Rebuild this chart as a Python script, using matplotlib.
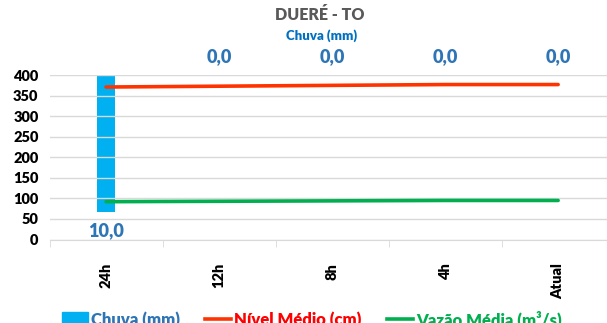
import matplotlib.pyplot as plt
from matplotlib.patches import Patch
from matplotlib.lines import Line2D
import numpy as np

plt.rcParams['font.family'] = ['Lato', 'DejaVu Sans']
plt.rcParams['font.weight'] = 'heavy'

categorias = ["24h", "12h", "8h", "4h", "Atual"]
chuva = [10.0, 0.0, 0.0, 0.0, 0.0]
nivel = [371, 373, 375, 377, 377]
vazao = [92, 93, 94, 95, 95]

azul = '#00B0F0'
azul_txt = '#2E75B6'
vermelho = '#FF3300'
verde = '#00B050'
grade = '#D9D9D9'

fig = plt.figure(figsize=(6.07, 3.23), dpi=100)
ax = fig.add_axes([0.0816, 0.2585, 0.931, 0.509])
x = np.arange(len(categorias))

# chuva no eixo secundario invertido (barra desce do topo)
ax2 = ax.twinx()
ax2.bar(x, chuva, width=0.16, color=azul, zorder=2)
ax2.set_ylim(12, 0)
ax2.axis('off')

ax.plot(x, nivel, color=vermelho, lw=2.6, solid_capstyle='round', zorder=3)
ax.plot(x, vazao, color=verde, lw=2.6, solid_capstyle='round', zorder=3)
ax.set_zorder(ax2.get_zorder() + 1)
ax.patch.set_visible(False)

ax.set_xlim(-0.5, len(categorias) - 0.5)
ax.set_ylim(0, 400)
ax.set_yticks(range(0, 401, 50))
ax.grid(axis='y', color=grade, lw=1)
ax.set_axisbelow(True)
for s in ['top', 'right', 'left']:
    ax.spines[s].set_visible(False)
ax.spines['bottom'].set_color(grade)
ax.tick_params(axis='y', length=0, pad=8, labelsize=10.5)
ax.set_xticks(x)
ax.set_xticklabels(categorias, rotation=90, va='top', fontsize=10.5)
ax.tick_params(axis='x', which='major', length=0, pad=17)
ax.set_xticks(np.arange(-0.5, len(categorias), 1), minor=True)
ax.tick_params(axis='x', which='minor', length=5, color=grade)

for xi, v in zip(x, chuva):
    txt = f"{v:.1f}".replace('.', ',')
    if v > 0:
        ax2.annotate(txt, (xi, v), xytext=(0, -13), textcoords='offset points',
                     ha='center', va='center', color=azul_txt, fontsize=13,
                     bbox=dict(boxstyle='square,pad=0.25', fc='white', ec='none'),
                     zorder=5, annotation_clip=False)
    else:
        ax2.annotate(txt, (xi, v), xytext=(0, 13), textcoords='offset points',
                     ha='center', va='center', color=azul_txt, fontsize=13,
                     annotation_clip=False)

fig.text(0.527, 1 - 15 / 323, "DUERÉ - TO", ha='center', va='center',
         color='#595959', fontsize=11.5)
fig.text(0.53, 1 - 36 / 323, "Chuva (mm)", ha='center', va='center',
         color='#0070C0', fontsize=9.5)

handles = [Patch(color=azul),
           Line2D([], [], color=vermelho, lw=2.6),
           Line2D([], [], color=verde, lw=2.6)]
rotulos = ["Chuva (mm)", "Nível Médio (cm)", "Vazão Média (m³/s)"]
leg = fig.legend(handles, rotulos, loc='upper left', ncol=3, frameon=False,
                 bbox_to_anchor=(62 / 607, 1 - 310 / 323), borderpad=0,
                 borderaxespad=0, handlelength=1.55, handleheight=0.85,
                 handletextpad=0.2, columnspacing=1.5,
                 prop={'size': 12, 'weight': 'heavy'})
for t, c in zip(leg.get_texts(), [azul_txt, '#FF0000', verde]):
    t.set_color(c)

fig.savefig("out.png", dpi=100)
